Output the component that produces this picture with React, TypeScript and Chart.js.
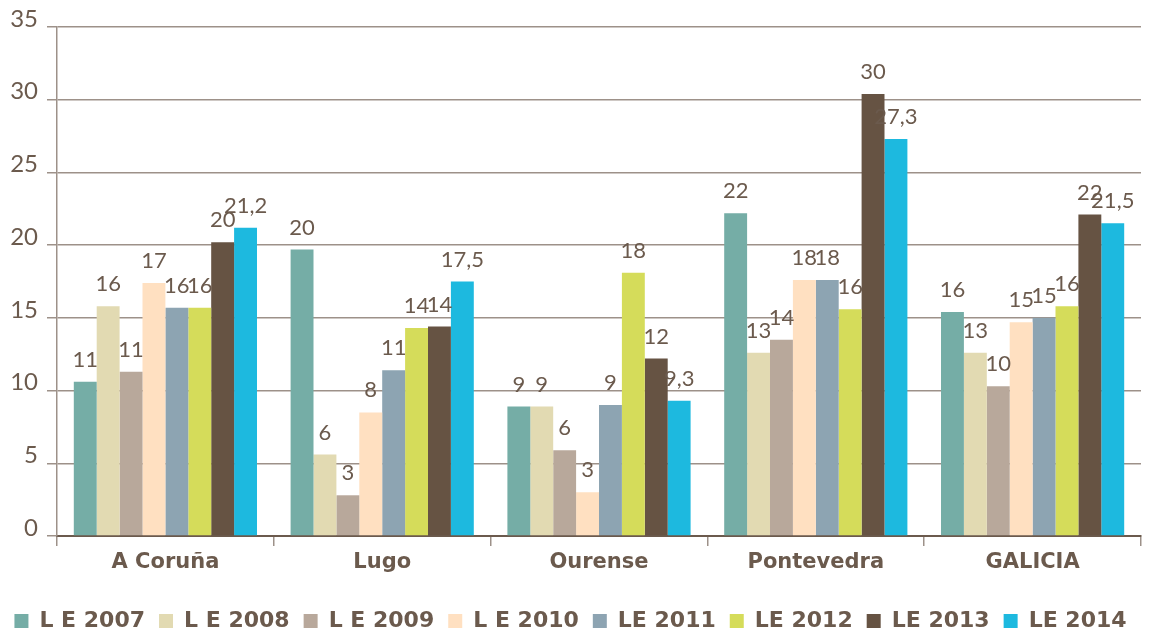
import React, { useEffect, useRef } from "react";
import { Chart, registerables } from "chart.js";

Chart.register(...registerables);

const categories = ["A Coruña", "Lugo", "Ourense", "Pontevedra", "GALICIA"];
const seriesNames = ["L E 2007", "L E 2008", "L E 2009", "L E 2010", "LE 2011", "LE 2012", "LE 2013", "LE 2014"];
const seriesColors = ["#75ADA6", "#E2DAB2", "#B8A89B", "#FFE0C1", "#8DA4B2", "#D5DC5A", "#665343", "#1DB9DF"];

const le2007 = [10.6, 19.7, 8.9, 22.2, 15.4];
const le2008 = [15.8, 5.6, 8.9, 12.6, 12.6];
const le2009 = [11.3, 2.8, 5.9, 13.5, 10.3];
const le2010 = [17.4, 8.5, 3.0, 17.6, 14.7];
const le2011 = [15.7, 11.4, 9.0, 17.6, 15.0];
const le2012 = [15.7, 14.3, 18.1, 15.6, 15.8];
const le2013 = [20.2, 14.4, 12.2, 30.4, 22.1];
const le2014 = [21.2, 17.5, 9.3, 27.3, 21.5];

const lbl2007 = ["11", "20", "9", "22", "16"];
const lbl2008 = ["16", "6", "9", "13", "13"];
const lbl2009 = ["11", "3", "6", "14", "10"];
const lbl2010 = ["17", "8", "3", "18", "15"];
const lbl2011 = ["16", "11", "9", "18", "15"];
const lbl2012 = ["16", "14", "18", "16", "16"];
const lbl2013 = ["20", "14", "12", "30", "22"];
const lbl2014 = ["21,2", "17,5", "9,3", "27,3", "21,5"];

const seriesValues = [le2007, le2008, le2009, le2010, le2011, le2012, le2013, le2014];
const seriesLabels = [lbl2007, lbl2008, lbl2009, lbl2010, lbl2011, lbl2012, lbl2013, lbl2014];

const TEXT = "#6b5a4d";
const GRID = "#9d9189";

const valueLabelPlugin = {
  id: "valueLabels",
  afterDatasetsDraw(chart: any) {
    const ctx = chart.ctx;
    ctx.save();
    ctx.font = "400 22px Lato, 'DejaVu Sans', sans-serif";
    ctx.fillStyle = TEXT;
    ctx.textAlign = "center";
    ctx.textBaseline = "middle";
    chart.data.datasets.forEach((ds: any, di: number) => {
      const meta = chart.getDatasetMeta(di);
      meta.data.forEach((bar: any, i: number) => {
        const txt = seriesLabels[di][i];
        ctx.fillText(txt, bar.x, bar.y - 22);
      });
    });
    ctx.restore();
  },
};

export default function App() {
  const ref = useRef<HTMLCanvasElement | null>(null);
  useEffect(() => {
    if (!ref.current) return;
    const chart = new Chart(ref.current, {
      type: "bar",
      data: {
        labels: categories,
        datasets: seriesNames.map((name, i) => ({
          label: name,
          data: seriesValues[i],
          backgroundColor: seriesColors[i],
          borderWidth: 0,
          categoryPercentage: 0.845,
          barPercentage: 1.0,
        })),
      },
      options: {
        responsive: false,
        animation: false,
        layout: { padding: { top: 27, right: 11, left: 0, bottom: -10 } },
        plugins: {
          tooltip: { enabled: false },
          legend: {
            position: "bottom",
            labels: {
              boxWidth: 14,
              boxHeight: 14,
              padding: 14,
              color: TEXT,
              font: { family: "'DejaVu Sans', sans-serif", size: 22, weight: "bold" },
            },
          },
        },
        scales: {
          x: {
            afterFit(scale: any) {
              scale.height = 60;
            },
            grid: {
              drawOnChartArea: false,
              drawTicks: true,
              tickLength: 10,
              color: GRID,
              lineWidth: 1.5,
            },
            border: { color: TEXT, width: 2 },
            ticks: {
              color: TEXT,
              padding: 4,
              font: { family: "'DejaVu Sans', sans-serif", size: 21, weight: "bold" },
            },
          },
          y: {
            min: 0,
            max: 35,
            afterFit(scale: any) {
              scale.width = 57;
            },
            grid: {
              color: GRID,
              lineWidth: 1.5,
              tickLength: 10,
            },
            border: { color: GRID, width: 1.5 },
            ticks: {
              stepSize: 5,
              color: TEXT,
              padding: 9,
              labelOffset: -8,
              font: { family: "Lato, sans-serif", size: 24, weight: "400" },
            },
          },
        },
      },
      plugins: [valueLabelPlugin],
    });
    return () => chart.destroy();
  }, []);
  return (
    <div style={{ position: "absolute", left: 0, top: 0, width: 1152, height: 632, background: "#fff" }}>
      <canvas ref={ref} width={1152} height={632} style={{ display: "block" }} />
    </div>
  );
}
